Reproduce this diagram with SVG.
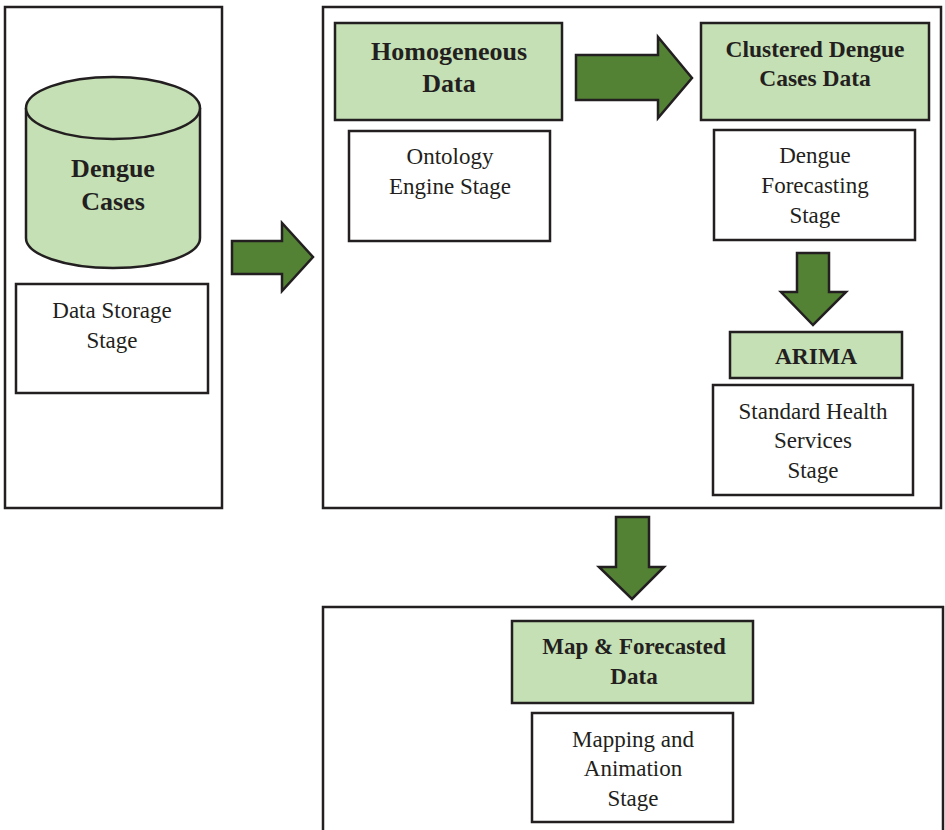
<svg xmlns="http://www.w3.org/2000/svg" width="945" height="830" viewBox="0 0 945 830">
<style>
.frame{fill:#ffffff;stroke:#231f20;stroke-width:2.5}
.box{fill:#ffffff;stroke:#231f20;stroke-width:2.5}
.gbox{fill:#c5e0b4;stroke:#231f20;stroke-width:2.5}
.arr{fill:#548235;stroke:#231f20;stroke-width:2.5;stroke-linejoin:miter}
.t{font-family:"Liberation Serif","Times New Roman",serif;font-size:23px;fill:#231f20;text-anchor:middle}
.b{font-family:"Liberation Serif","Times New Roman",serif;font-weight:bold;fill:#231f20;text-anchor:middle}
</style>
<rect width="945" height="830" fill="#ffffff"/>
<g id="frame-left"><rect class="frame" x="5" y="7" width="217" height="501"/></g>
<g id="frame-middle"><rect class="frame" x="323" y="7" width="618" height="501"/></g>
<g id="frame-bottom"><rect class="frame" x="323" y="607" width="620" height="230"/></g>

<g id="dengue-cases">
<path class="gbox" d="M26,108 L26,238 A87,30 0 0 0 200,238 L200,108"/>
<ellipse class="gbox" cx="113" cy="108" rx="87" ry="31"/>
<text class="b" x="113" y="177" font-size="26">Dengue</text>
<text class="b" x="113" y="210" font-size="26">Cases</text>
</g>
<g id="data-storage">
<rect class="box" x="16" y="284" width="192" height="109"/>
<text class="t" x="112" y="318">Data Storage</text>
<text class="t" x="112" y="348">Stage</text>
</g>

<g id="homogeneous-data">
<rect class="gbox" x="335" y="23" width="227" height="97"/>
<text class="b" x="449" y="60" font-size="26">Homogeneous</text>
<text class="b" x="449" y="92" font-size="26">Data</text>
</g>
<g id="ontology">
<rect class="box" x="349" y="131" width="201" height="110"/>
<text class="t" x="450" y="164">Ontology</text>
<text class="t" x="450" y="194">Engine Stage</text>
</g>
<g id="clustered">
<rect class="gbox" x="701" y="23" width="228" height="97"/>
<text class="b" x="815" y="57" font-size="23.5">Clustered Dengue</text>
<text class="b" x="815" y="86" font-size="23.5">Cases Data</text>
</g>
<g id="forecasting">
<rect class="box" x="714" y="130" width="201" height="110"/>
<text class="t" x="815" y="163">Dengue</text>
<text class="t" x="815" y="193">Forecasting</text>
<text class="t" x="815" y="223">Stage</text>
</g>
<g id="arima">
<rect class="gbox" x="730" y="332" width="172" height="46"/>
<text class="b" x="816" y="364" font-size="23.5">ARIMA</text>
</g>
<g id="health-services">
<rect class="box" x="713" y="385" width="200" height="110"/>
<text class="t" x="813" y="419">Standard Health</text>
<text class="t" x="813" y="448">Services</text>
<text class="t" x="813" y="478">Stage</text>
</g>
<g id="map-data">
<rect class="gbox" x="512" y="621" width="241" height="82"/>
<text class="b" x="634" y="654" font-size="23">Map &amp; Forecasted</text>
<text class="b" x="634" y="684" font-size="23">Data</text>
</g>
<g id="mapping">
<rect class="box" x="532" y="713" width="201" height="109"/>
<text class="t" x="633" y="747">Mapping and</text>
<text class="t" x="633" y="776">Animation</text>
<text class="t" x="633" y="806">Stage</text>
</g>

<g id="connectors">
<path class="arr" d="M232,241 L282,241 L282,223 L313,257 L282,291 L282,274 L232,274 Z"/>
<path class="arr" d="M576,55 L658,55 L658,37 L692,78 L658,118 L658,100 L576,100 Z"/>
<path class="arr" d="M797,253 L829,253 L829,292 L846,292 L813,325 L781,292 L797,292 Z"/>
<path class="arr" d="M616,517 L649,517 L649,567 L664,567 L632,599 L599,567 L616,567 Z"/>
</g>
</svg>
